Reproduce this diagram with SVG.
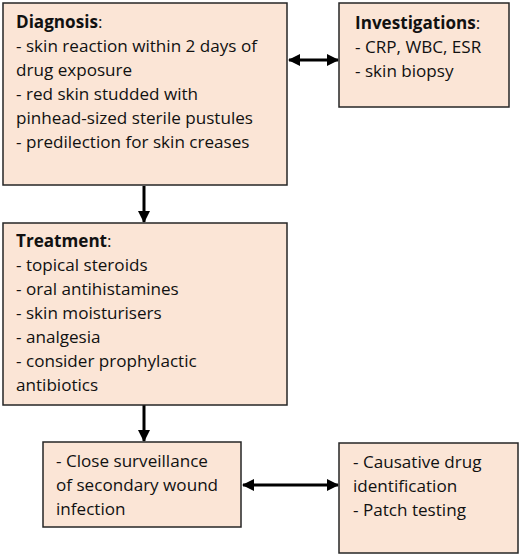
<svg xmlns="http://www.w3.org/2000/svg" width="520" height="555" viewBox="0 0 520 555">
<style>
.box{fill:#FBE5D6;stroke:#262626;stroke-width:1.5}
text{font-family:"Open Sans","Liberation Sans",sans-serif;font-size:17.1px;fill:#111}
.b{font-weight:bold}
.con{stroke:#000;stroke-width:3;fill:none}
</style>
<defs>
<marker id="ah" viewBox="0 0 12 12" refX="11" refY="6" markerWidth="12" markerHeight="12" markerUnits="userSpaceOnUse" orient="auto-start-reverse">
<path d="M0,0 L12,6 L0,12 Z" fill="#000"/>
</marker>
</defs>
<rect width="520" height="555" fill="#fff"/>
<g id="connectors">
<line class="con" x1="144" y1="186" x2="144" y2="222" marker-end="url(#ah)"/>
<line class="con" x1="144" y1="405" x2="144" y2="441" marker-end="url(#ah)"/>
<line class="con" x1="289" y1="60" x2="338" y2="60" marker-start="url(#ah)" marker-end="url(#ah)"/>
<line class="con" x1="243" y1="485" x2="338" y2="485" marker-start="url(#ah)" marker-end="url(#ah)"/>
</g>
<g id="diagnosis">
<rect class="box" x="3" y="3" width="284" height="182"/>
<text x="16" y="28"><tspan class="b">Diagnosis</tspan>:</text>
<text x="16" y="52">- skin reaction within 2 days of</text>
<text x="16" y="76">drug exposure</text>
<text x="16" y="100">- red skin studded with</text>
<text x="16" y="124">pinhead-sized sterile pustules</text>
<text x="16" y="148">- predilection for skin creases</text>
</g>
<g id="investigations">
<rect class="box" x="339" y="3" width="170" height="104"/>
<text x="355" y="29"><tspan class="b">Investigations</tspan>:</text>
<text x="355" y="53">- CRP, WBC, ESR</text>
<text x="355" y="77">- skin biopsy</text>
</g>
<g id="treatment">
<rect class="box" x="3" y="223" width="284" height="182"/>
<text x="16" y="247"><tspan class="b">Treatment</tspan>:</text>
<text x="16" y="271">- topical steroids</text>
<text x="16" y="295">- oral antihistamines</text>
<text x="16" y="319">- skin moisturisers</text>
<text x="16" y="343">- analgesia</text>
<text x="16" y="367">- consider prophylactic</text>
<text x="16" y="391">antibiotics</text>
</g>
<g id="surveillance">
<rect class="box" x="43" y="442" width="198" height="85"/>
<text x="56" y="467">- Close surveillance</text>
<text x="56" y="491">of secondary wound</text>
<text x="56" y="515">infection</text>
</g>
<g id="causative">
<rect class="box" x="339" y="443" width="179" height="110"/>
<text x="353" y="468">- Causative drug</text>
<text x="353" y="492">identification</text>
<text x="353" y="516">- Patch testing</text>
</g>
</svg>
